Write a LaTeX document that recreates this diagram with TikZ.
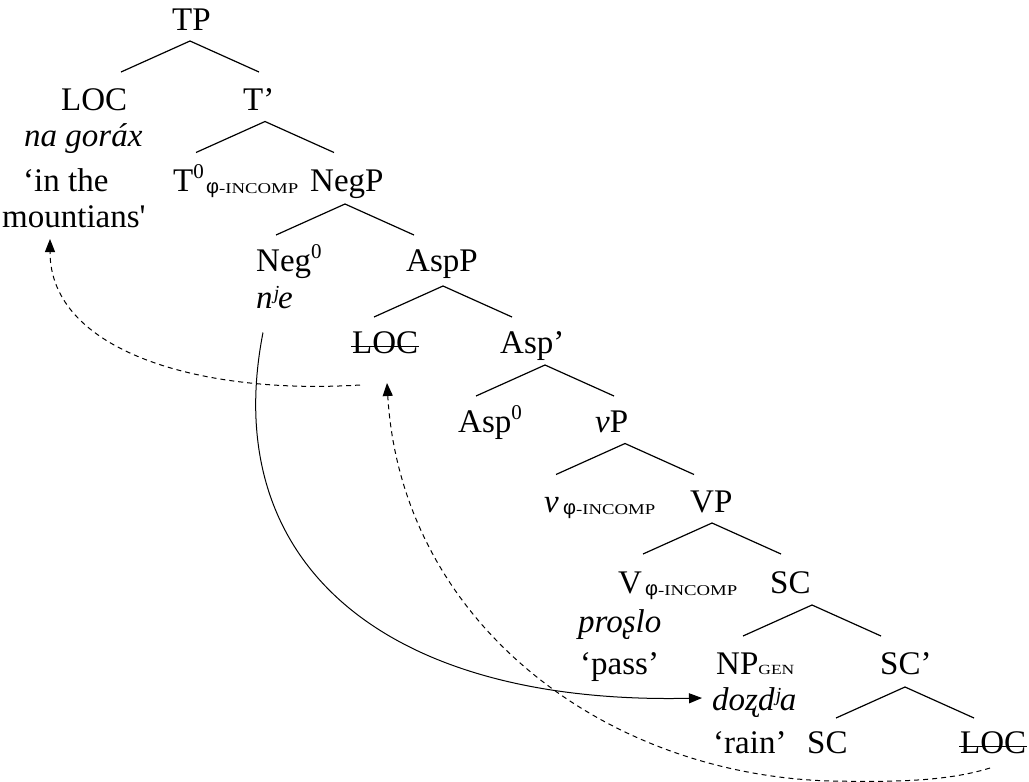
\documentclass[tikz,border=0pt]{standalone}
\usepackage{fontspec}
\setmainfont{Liberation Serif}
\newfontfamily\phifont{Liberation Sans}
\newfontfamily\scfont[FakeStretch=1.25]{Liberation Serif}
\usetikzlibrary{arrows.meta}
\newcommand\phisub{\raisebox{-2pt}{{\phifont\fontsize{20}{20}\selectfont φ}{\scfont\fontsize{15}{15}\selectfont -INCOMP}}}
\newcommand\gensub{{\scfont\fontsize{14}{14}\selectfont GEN}}
\newcommand\zerosup{\raisebox{13pt}{\fontsize{21}{21}\selectfont 0}}
\tikzset{
  lbl/.style={anchor=base west, inner sep=0pt, font=\fontsize{33}{38}\selectfont},
  sub/.style={anchor=base west, inner sep=0pt},
  branch/.style={line width=1.2pt},
  mv/.style={line width=1pt, -{Triangle[length=13pt,width=10pt]}},
  mvd/.style={mv, dash pattern=on 5pt off 4pt},
  strike/.style={line width=1.2pt}
}
\begin{document}
\begin{tikzpicture}[x=1pt,y=-1pt]
\useasboundingbox (0,0) rectangle (1029,782);
% nodes
\node[lbl] (TP) at (172,30) {TP};
\node[lbl] (LOC) at (61,110.5) {LOC};
\node[lbl] (Tb) at (243,110.5) {T'};
\node[lbl] (nagorax) at (24,146) {\itshape na goráx};
\node[lbl] (inthe) at (23,191) {`in the};
\node[lbl] (mount) at (2,227) {mountians\textquotesingle};
\node[lbl] (T0) at (173,191) {T\zerosup};
\node[sub] (T0s) at (206,191) {\phisub};
\node[lbl] (NegP) at (310,191) {NegP};
\node[lbl] (Neg0) at (256,271.5) {Neg\zerosup};
\node[lbl] (nje) at (256,308.5) {\itshape nʲe};
\node[lbl] (AspP) at (406,271.5) {AspP};
\node[lbl] (locA) at (352,353) {LOC};
\node[lbl] (Aspb) at (500,353) {Asp'};
\node[lbl] (Asp0) at (458,432.5) {Asp\zerosup};
\node[lbl] (vP) at (595,432.5) {\textit{v}P};
\node[lbl] (v) at (544,512) {\itshape v};
\node[sub] (vs) at (563,512) {\phisub};
\node[lbl] (VP) at (690,512) {VP};
\node[lbl] (V) at (618,593) {V};
\node[sub] (Vs) at (645,593) {\phisub};
\node[lbl] (SC) at (770,593) {SC};
\node[lbl] (proslo) at (578,632) {\itshape proʂlo};
\node[lbl] (pass) at (580,674) {`pass'};
\node[lbl] (NP) at (716,674) {NP\gensub};
\node[lbl] (SCb) at (880,674) {SC'};
\node[lbl] (dozdja) at (712,710) {\itshape doʐdʲa};
\node[lbl] (rain) at (713,753) {`rain'};
\node[lbl] (SC2) at (807,753) {SC};
\node[lbl] (locB) at (960,753) {LOC};
% strike-through
\draw[strike] ([shift={(-1,-6.5)}]locA.base west) -- ([shift={(1,-6.5)}]locA.base east);
\draw[strike] ([shift={(-1,-6.5)}]locB.base west) -- ([shift={(1,-6.5)}]locB.base east);
% branches
\foreach \n/\x/\y in {TP/190/41, Tb/265/121.5, NegP/345/204, AspP/443/286, Aspb/545/365, vP/625/443.5, VP/712/523, SC/812/605, SCb/905/687}{
  \coordinate (\n-a) at (\x,\y);
  \coordinate (\n-l) at (\x-69,\y+31);
  \coordinate (\n-r) at (\x+69,\y+31);
  \draw[branch] (\n-l) -- (\n-a) -- (\n-r);
}
% movement arrows
\coordinate (s1) at ([shift={(7,24)}]nje.base west);
\coordinate (e1) at ([shift={(-10,-12)}]dozdja.base west);
\draw[mv] (s1) .. controls +(-45,230) and +(-319,7) .. (e1);
\coordinate (s2) at ([shift={(8,32)}]locA.base west);
\coordinate (e2) at ([shift={(48,12)}]mount.base west);
\draw[mvd] (s2) .. controls +(-160,10) and +(0,112) .. (e2);
\coordinate (s3) at ([shift={(30,15)}]locB.base west);
\coordinate (m3) at (830,781);
\coordinate (e3) at ([shift={(35,30)}]locA.base west);
\draw[mvd] (s3) .. controls +(-45,14) and +(60,1) .. (m3) .. controls +(-230,-7) and +(14,236) .. (e3);
\end{tikzpicture}
\end{document}
